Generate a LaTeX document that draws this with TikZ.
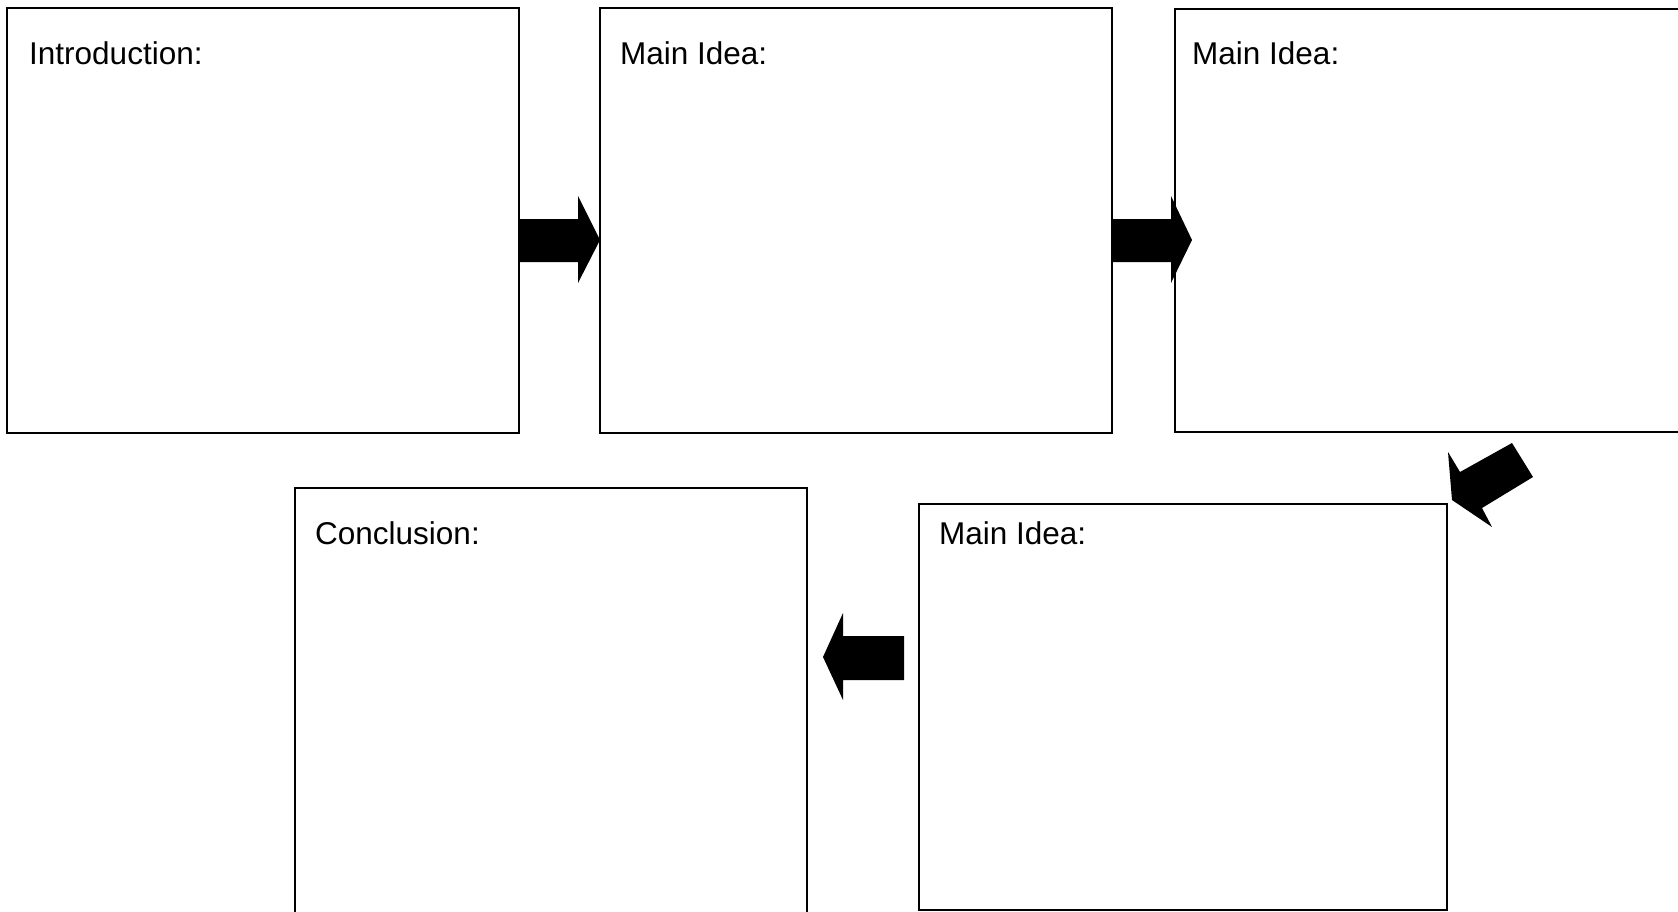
\documentclass[tikz,border=0pt]{standalone}
\usepackage{fontspec}
\setmainfont{Liberation Sans}
\begin{document}
\begin{tikzpicture}[x=1pt,y=-1pt,
  box/.style={draw=black, line width=2pt, anchor=north west, inner sep=0pt, outer sep=0pt},
  lbl/.style={anchor=base west, inner sep=0pt, font=\fontsize{31.5}{37}\selectfont},
  blk/.style={fill=black}]
\useasboundingbox (0,0) rectangle (1678,911);
\node[box, minimum width=512pt, minimum height=425pt] (intro) at (7,8) {};
\node[box, minimum width=512pt, minimum height=425pt] (main1) at (600,8) {};
\node[box, minimum width=515pt, minimum height=423pt] (main2) at (1175,9) {};
\node[box, minimum width=528pt, minimum height=406pt] (main3) at (919,504) {};
\node[box, minimum width=512pt, minimum height=427pt] (concl) at (295,488) {};
\node[lbl] (tintro) at (29,64) {Introduction:};
\node[lbl] (tmain1) at (620,64) {Main Idea:};
\node[lbl] (tmain2) at (1192,64) {Main Idea:};
\node[lbl] (tmain3) at (939,544) {Main Idea:};
\node[lbl] (tconcl) at (315,544) {Conclusion:};
\fill[blk] (518,219) -- (578,219) -- (578,196) -- (600,240) -- (578,283) -- (578,262) -- (518,262) -- cycle;
\fill[blk] (1112,219) -- (1171,219) -- (1171,196) -- (1192,240) -- (1171,283) -- (1171,262) -- (1112,262) -- cycle;
\fill[blk] (1512,443) -- (1460,472) -- (1448,452) -- (1452,500) -- (1492,527) -- (1482,508) -- (1533,477) -- cycle;
\fill[blk] (904,636) -- (843,636) -- (843,613) -- (823,657) -- (843,700) -- (843,680) -- (904,680) -- cycle;
\end{tikzpicture}
\end{document}
